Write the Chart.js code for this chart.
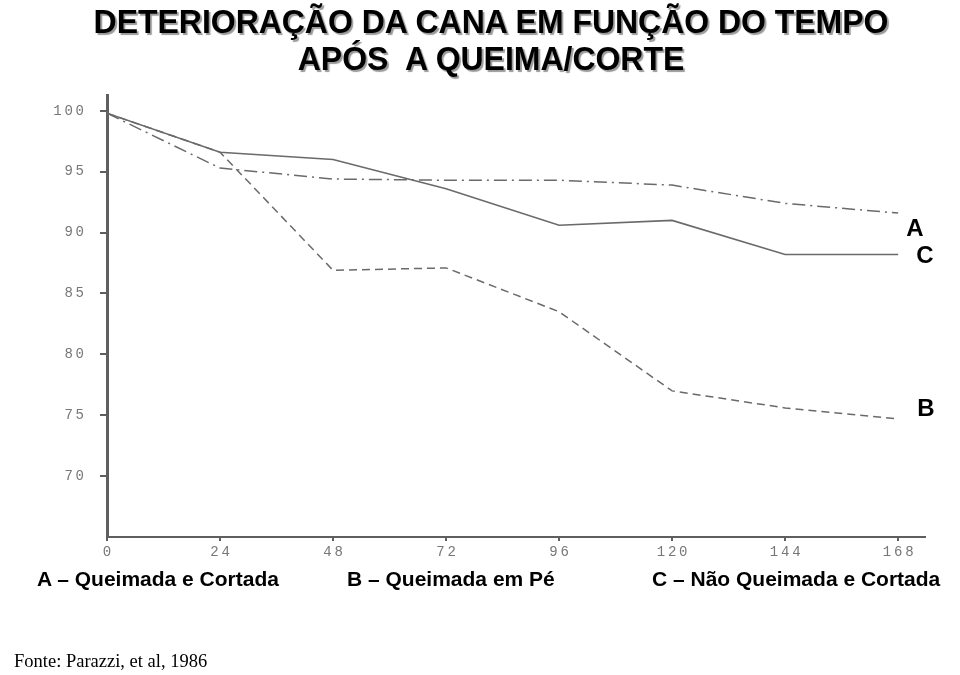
<!DOCTYPE html>
<html>
<head>
<meta charset="utf-8">
<script src="https://cdn.jsdelivr.net/npm/chart.js@4"></script>
<style>
  html, body { margin: 0; padding: 0; background: #fff; }
  #wrap { position: relative; width: 960px; height: 675px; overflow: hidden; }
  #chart { position: absolute; left: 0; top: 0; }
  .title {
    position: absolute; left: 0; width: 982px; text-align: center;
    font-family: "Liberation Sans", Arial, sans-serif;
    font-weight: bold; font-size: 34px; color: #000; line-height: 34px;
    text-shadow: 2px 2px 1px #9a9a9a;
    transform: scaleX(0.94);
  }
  .legend {
    position: absolute; top: 567px;
    font-family: "Liberation Sans", Arial, sans-serif;
    font-weight: bold; font-size: 21px; color: #000; white-space: nowrap;
  }
  #source {
    position: absolute; left: 14px; top: 651px;
    font-family: "Liberation Serif", "Times New Roman", serif;
    font-size: 18.5px; color: #000;
  }
</style>
</head>
<body>
<div id="wrap">
  <canvas id="chart" width="960" height="675"></canvas>
  <div class="title" style="top:4px">DETERIORAÇÃO DA CANA EM FUNÇÃO DO TEMPO</div>
  <div class="title" style="top:41px">APÓS&nbsp; A QUEIMA/CORTE</div>
  <div class="legend" style="left:37px">A – Queimada e Cortada</div>
  <div class="legend" style="left:347px">B – Queimada em Pé</div>
  <div class="legend" style="left:652px">C – Não Queimada e Cortada</div>
  <div id="source">Fonte: Parazzi, et al, 1986</div>
</div>
<script>
const hours = [0, 24, 48, 72, 96, 120, 144, 168];
const seriesA = [99.8, 95.3, 94.4, 94.3, 94.3, 93.9, 92.4, 91.6]; // queimada e cortada
const seriesB = [99.8, 96.6, 86.9, 87.1, 83.5, 77.0, 75.6, 74.7]; // queimada em pe
const seriesC = [99.8, 96.6, 96.0, 93.6, 90.6, 91.0, 88.2, 88.2]; // nao queimada e cortada
const seriesTags = ["A", "B", "C"];
const yTicks = [70, 75, 80, 85, 90, 95, 100];
const xTicks = [0, 24, 48, 72, 96, 120, 144, 168];

const lineGray = "#6a6a6a";
const axisGray = "#5f5f5f";

function toPoints(values) {
    return hours.map((h, i) => ({ x: h, y: values[i] }));
}

// spaced digits, like the typewriter labels of the scan
function spaced(v) {
    return String(v).split("").join("\u2009");
}

// letter at the end of each line
const endTags = {
    id: "endTags",
    afterDatasetsDraw(chart) {
        const ctx = chart.ctx;
        const offsets = [[8, 16], [19, -10], [18, 2]];
        ctx.save();
        ctx.font = "bold 24px 'Liberation Sans', Arial, sans-serif";
        ctx.fillStyle = "#000";
        ctx.textBaseline = "middle";
        chart.data.datasets.forEach((ds, i) => {
            const pts = chart.getDatasetMeta(i).data;
            const last = pts[pts.length - 1];
            ctx.fillText(ds.tag, last.x + offsets[i][0], last.y + offsets[i][1]);
        });
        ctx.restore();
    },
};

function renderChart() {
    const ctx = document.getElementById("chart").getContext("2d");

    new Chart(ctx, {
        type: "line",
        data: {
            datasets: [
                {
                    label: "A – Queimada e Cortada",
                    tag: seriesTags[0],
                    data: toPoints(seriesA),
                    borderColor: lineGray,
                    borderWidth: 1.5,
                    borderDash: [13, 5, 2, 5],
                    pointRadius: 0,
                },
                {
                    label: "B – Queimada em Pé",
                    tag: seriesTags[1],
                    data: toPoints(seriesB),
                    borderColor: lineGray,
                    borderWidth: 1.5,
                    borderDash: [8, 5],
                    pointRadius: 0,
                },
                {
                    label: "C – Não Queimada e Cortada",
                    tag: seriesTags[2],
                    data: toPoints(seriesC),
                    borderColor: lineGray,
                    borderWidth: 1.6,
                    pointRadius: 0,
                },
            ],
        },
        options: {
            responsive: false,
            animation: false,
            layout: { padding: { left: 0, right: 35, top: 95, bottom: 0 } },
            scales: {
                x: {
                    type: "linear",
                    min: 0,
                    max: 173.7,
                    afterBuildTicks: (scale) => {
                        scale.ticks = xTicks.map((v) => ({ value: v }));
                    },
                    afterFit: (scale) => {
                        scale.height = 138;
                    },
                    border: { color: axisGray, width: 2 },
                    grid: {
                        drawOnChartArea: false,
                        tickLength: 4,
                        color: axisGray,
                        lineWidth: 2,
                    },
                    ticks: {
                        padding: 3,
                        color: "#777",
                        font: { family: "'Liberation Mono', monospace", size: 14 },
                        callback: (v) => spaced(v),
                        maxRotation: 0,
                    },
                },
                y: {
                    min: 65,
                    max: 101.3,
                    afterBuildTicks: (scale) => {
                        scale.ticks = yTicks.map((v) => ({ value: v }));
                    },
                    afterFit: (scale) => {
                        scale.width = 107;
                    },
                    border: { color: axisGray, width: 3 },
                    grid: {
                        drawOnChartArea: false,
                        tickLength: 7,
                        color: axisGray,
                        lineWidth: 2,
                    },
                    ticks: {
                        padding: 16,
                        color: "#777",
                        font: { family: "'Liberation Mono', monospace", size: 14 },
                        callback: (v) => spaced(v),
                    },
                },
            },
            plugins: {
                legend: { display: false },
                tooltip: { enabled: false },
            },
        },
        plugins: [endTags],
    });
}

renderChart();
</script>
</body>
</html>
